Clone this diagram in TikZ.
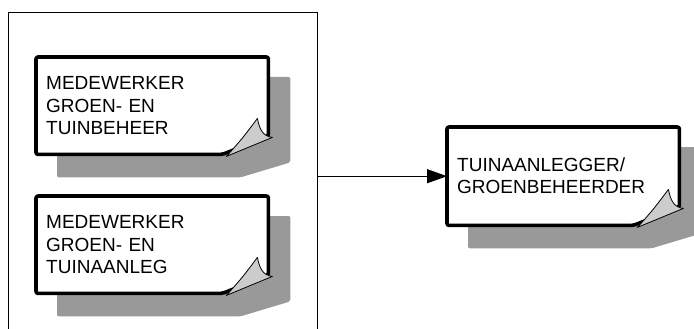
\documentclass[tikz,border=0pt]{standalone}
\usepackage{fontspec}
\setmainfont{Liberation Sans}
\usetikzlibrary{calc,arrows.meta,backgrounds}
\definecolor{shadowc}{HTML}{999999}
\definecolor{flapc}{HTML}{CCCCCC}
\newcommand\paperdraw[1]{%
  \begin{scope}[on background layer]
    \fill[shadowc, rounded corners=2pt]
      ($(#1.north west)+(21,20)$) -- ($(#1.north east)+(22,20)$) --
      ($(#1.south east)+(22,8)$) -- ($(#1.south east)+(-28,23)$) --
      ($(#1.south west)+(21,23)$) -- cycle;
    \draw[paperline, fill=white]
      (#1.north west) -- (#1.north east) -- ($(#1.south east)+(0,-18)$) --
      ($(#1.south east)+(-46,0)$) -- (#1.south west) -- cycle;
  \end{scope}
  \filldraw[flap]
    ($(#1.south east)+(-42,2)$) .. controls ($(#1.south east)+(-26,-16)$) ..
    ($(#1.south east)+(-11,-36)$) .. controls ($(#1.south east)+(-9,-26)$) and ($(#1.south east)+(-6,-18)$) ..
    ($(#1.south east)+(4,-17)$) -- cycle;
}
\begin{document}
\begin{tikzpicture}[x=1pt,y=-1pt,
  paperbox/.style={anchor=north west, inner xsep=10pt, inner ysep=0pt,
    minimum width=232pt, minimum height=97pt, text width=212pt, align=left,
    font=\fontsize{19}{22.5}\selectfont},
  paperline/.style={draw=black, line width=3.6pt, rounded corners=2pt, line join=round},
  flap/.style={fill=flapc, draw=black, line width=0.8pt, line join=round},
  frameline/.style={draw=black, line width=1pt},
  conn/.style={draw=black, line width=1.2pt, -{Triangle[length=20pt,width=14pt]}}]
\useasboundingbox (0,0) rectangle (694,329);
\node[paperbox] (b1) at (36,57) {MEDEWERKER\\GROEN- EN\\TUINBEHEER};
\node[paperbox] (b2) at (36,196) {MEDEWERKER\\GROEN- EN\\TUINAANLEG};
\node[paperbox, minimum width=231pt, minimum height=98pt] (b3) at (447,127) {\raisebox{1.5pt}{\parbox[b]{211pt}{TUINAANLEGGER/\\GROENBEHEERDER}}};
\paperdraw{b1}
\paperdraw{b2}
\paperdraw{b3}
\draw[frameline] (8,334) -- (8,13) -- (317,13) -- (317,334);
\coordinate (fe) at (317,0 |- b3.west);
\draw[conn] (fe) -- (b3.west);
\end{tikzpicture}
\end{document}
